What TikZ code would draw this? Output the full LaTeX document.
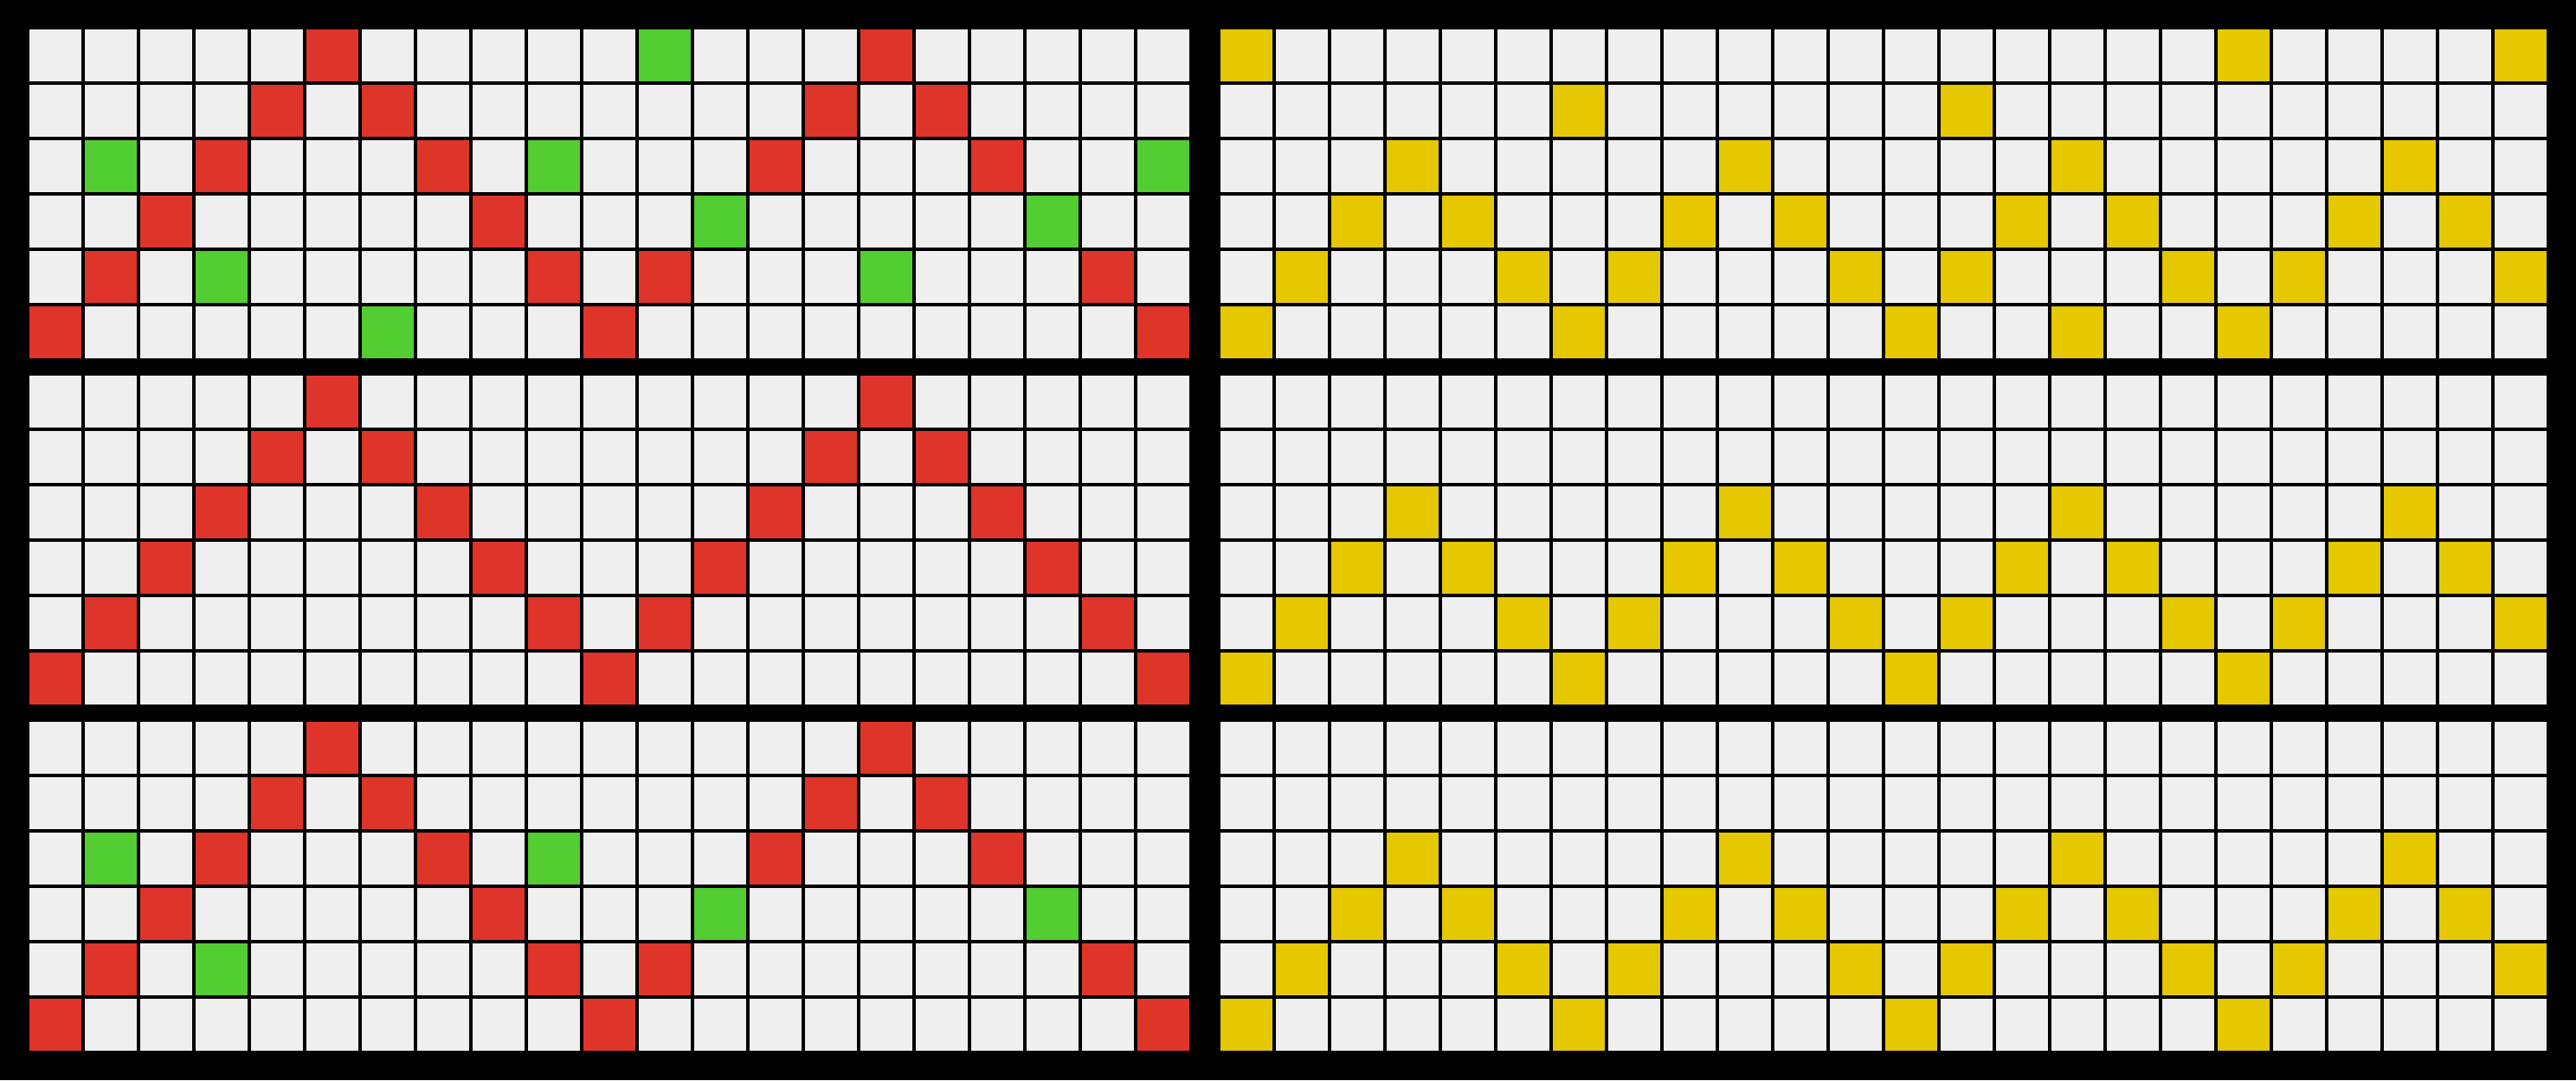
\documentclass[tikz,border=0pt]{standalone}
\definecolor{cellbg}{HTML}{EFEFEF}
\definecolor{cred}{HTML}{DF3429}
\definecolor{cgreen}{HTML}{52CD32}
\definecolor{cyellow}{HTML}{E6C800}
\newcommand\paintcells[4]{%
  \foreach \c/\r in #4 {\fill[#1] ({#2+\c},{#3+\r}) rectangle ++(1,1);}}
\newcommand\gridbase[3]{\fill[cellbg] (#1,#2) rectangle ++(#3,6);}
\newcommand\gridlines[3]{\draw[cellline,shift={(#1,#2)}] (0,0) grid (#3,6);}
\newcommand\redzig{5/0,15/0,4/1,6/1,14/1,16/1,3/2,7/2,13/2,17/2,2/3,8/3,12/3,18/3,1/4,9/4,11/4,19/4,0/5,10/5,20/5}
\newcommand\yelzig{3/2,9/2,15/2,21/2,2/3,4/3,8/3,10/3,14/3,16/3,20/3,22/3,1/4,5/4,7/4,11/4,13/4,17/4,19/4,23/4,0/5,6/5,12/5,18/5}
\newcommand\greentop{11/0,1/2,9/2,20/2,12/3,18/3,3/4,15/4,6/5}
\newcommand\greenbot{1/2,9/2,12/3,18/3,3/4}
\newcommand\yeltop{0/0,18/0,23/0,6/1,13/1,15/5}
\begin{document}
\begin{tikzpicture}[x=1cm,y=-1cm,cellline/.style={draw=black,line width=1.4pt}]
\fill[black] (0,0) rectangle (46.5,19.5);
\useasboundingbox (0,0) rectangle (46.5,19.5);
% left column
\foreach \yy in {0.5,6.75,13} {\gridbase{0.5}{\yy}{21}}
\foreach \yy in {0.5,6.75,13} {\paintcells{cred}{0.5}{\yy}{\redzig}}
\paintcells{cgreen}{0.5}{0.5}{\greentop}
\paintcells{cgreen}{0.5}{13}{\greenbot}
\foreach \yy in {0.5,6.75,13} {\gridlines{0.5}{\yy}{21}}
% right column
\foreach \yy in {0.5,6.75,13} {\gridbase{22}{\yy}{24}}
\foreach \yy in {0.5,6.75,13} {\paintcells{cyellow}{22}{\yy}{\yelzig}}
\paintcells{cyellow}{22}{0.5}{\yeltop}
\foreach \yy in {0.5,6.75,13} {\gridlines{22}{\yy}{24}}
\end{tikzpicture}
\end{document}
